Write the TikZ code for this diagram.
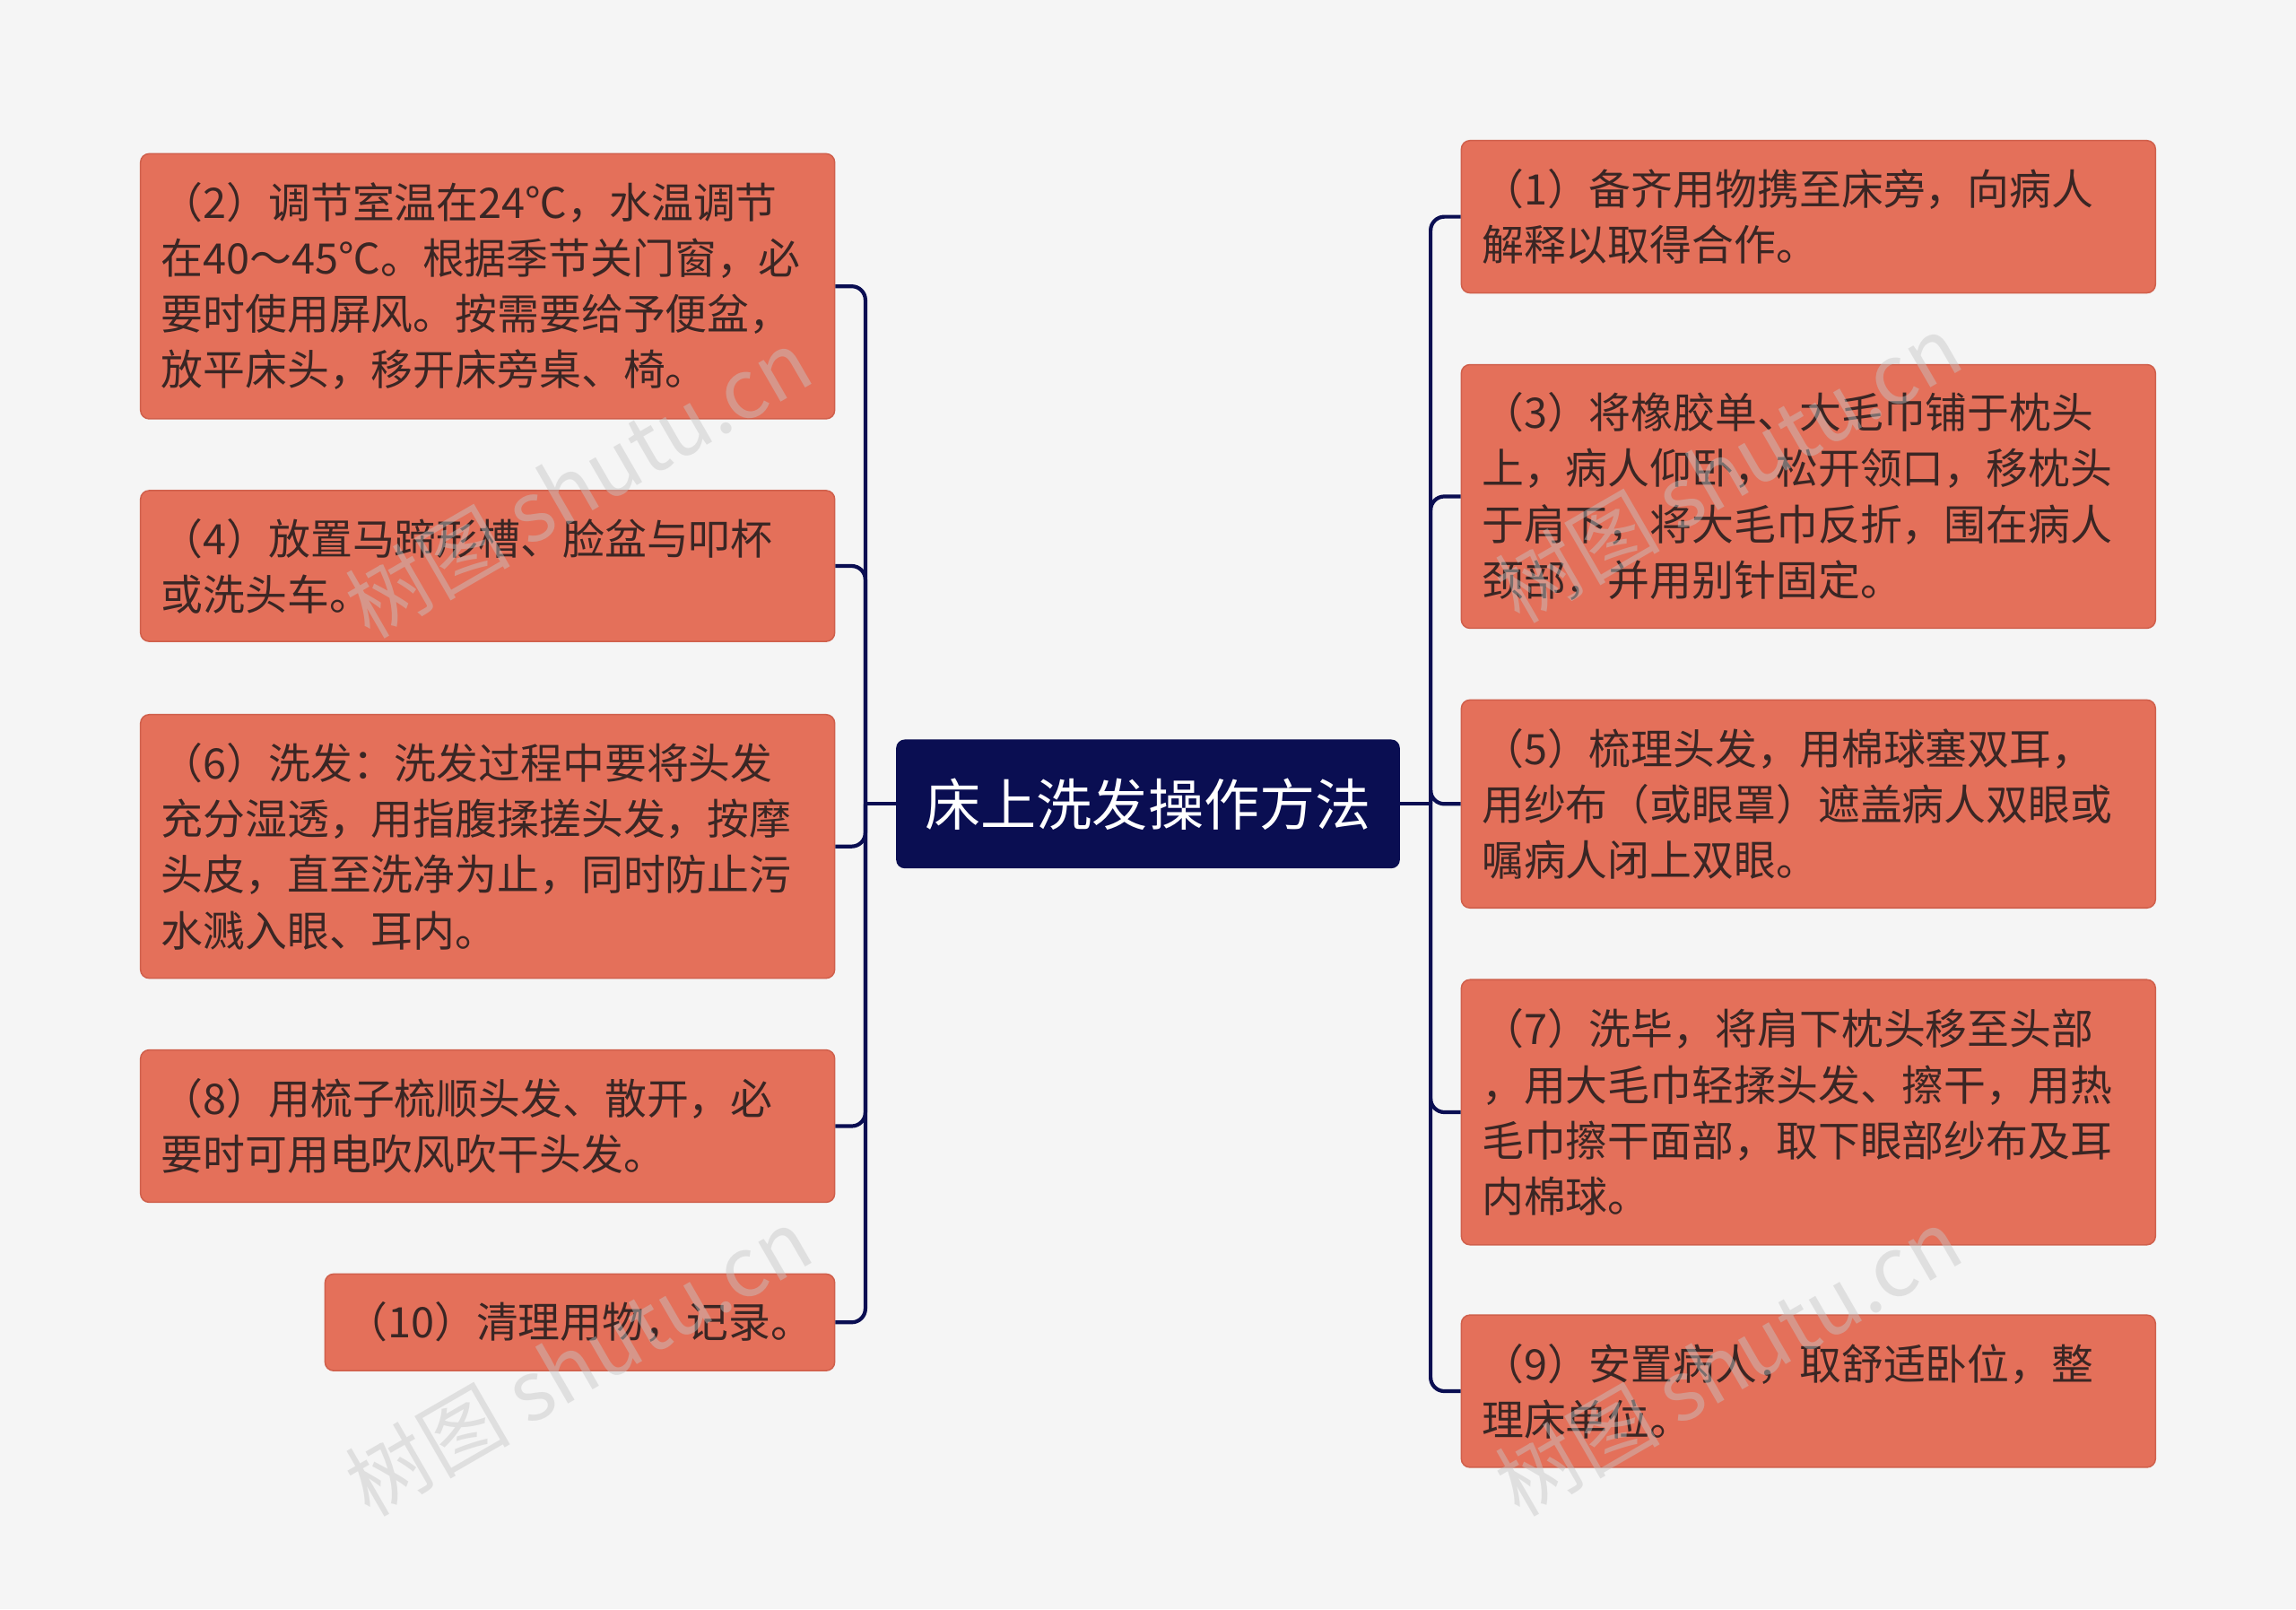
\documentclass[tikz,border=0pt]{standalone}
\usepackage{fontspec}
\setmainfont{Noto Sans CJK SC}
\newfontfamily\wmfont{Noto Sans CJK SC}
\definecolor{bg}{HTML}{F5F5F5}
\definecolor{boxc}{HTML}{E4705A}
\definecolor{boxd}{HTML}{D0604C}
\definecolor{navy}{HTML}{0A0E52}
\definecolor{txt}{HTML}{3A2624}
\tikzset{
 item/.style={draw=boxd,fill=boxc,rounded corners=5pt,line width=0.8pt,text=txt,align=left,inner sep=0pt,
   font=\fontsize{24.5}{32.5}\selectfont},
 lw/.style={minimum width=14.22cm,text width=13.38cm},
 link/.style={draw=navy,line width=2.2pt,rounded corners=8pt},
 wm/.style={text=gray!45,opacity=0.45,rotate=30,font=\wmfont\fontsize{48}{48}\selectfont}
}
\begin{document}
\begin{tikzpicture}[x=0.03cm,y=-0.03cm]
\fill[bg] (0,0) rectangle (1568,1099);
\useasboundingbox (0,0) rectangle (1568,1099);
\node[fill=navy,rounded corners=5pt,minimum width=10.32cm,minimum height=2.64cm,text=white,font=\fontsize{32.5}{38}\selectfont] (c) at (784,549) {床上洗发操作方法};
\node[item,lw,minimum height=5.43cm] (l1) at (333,195.5) {（2）调节室温在24℃，水温调节\\在40～45℃。根据季节关门窗，必\\要时使用屏风。按需要给予便盆，\\放平床头，移开床旁桌、椅。};
\node[item,lw,minimum height=3.09cm] (l2) at (333,386.5) {（4）放置马蹄形槽、脸盆与叩杯\\或洗头车。};
\node[item,lw,minimum height=5.4cm] (l3) at (333,578) {（6）洗发：洗发过程中要将头发\\充分湿透，用指腹揉搓头发，按摩\\头皮，直至洗净为止，同时防止污\\水溅入眼、耳内。};
\node[item,lw,minimum height=3.12cm] (l4) at (333,769) {（8）用梳子梳顺头发、散开，必\\要时可用电吹风吹干头发。};
\node[item,minimum width=10.44cm,text width=9.6cm,minimum height=1.98cm] (l5) at (396,903) {（10）清理用物，记录。};
\node[item,lw,minimum height=3.12cm] (r1) at (1235,148) {（1）备齐用物携至床旁，向病人\\解释以取得合作。};
\node[item,lw,minimum height=5.4cm] (r2) at (1235,339) {（3）将橡胶单、大毛巾铺于枕头\\上，病人仰卧，松开领口，移枕头\\于肩下，将大毛巾反折，围在病人\\颈部，并用别针固定。};
\node[item,lw,minimum height=4.26cm] (r3) at (1235,549) {（5）梳理头发，用棉球塞双耳，\\用纱布（或眼罩）遮盖病人双眼或\\嘱病人闭上双眼。};
\node[item,lw,minimum height=5.43cm] (r4) at (1235,759.5) {（7）洗毕，将肩下枕头移至头部\\，用大毛巾轻揉头发、擦干，用热\\毛巾擦干面部，取下眼部纱布及耳\\内棉球。};
\node[item,lw,minimum height=3.12cm] (r5) at (1235,950) {（9）安置病人，取舒适卧位，整\\理床单位。};
\coordinate (lb) at (591,549);
\coordinate (rb) at (977,549);
\draw[link] (c.west) -- (lb);
\draw[link] (c.east) -- (rb);
\foreach \n in {l1,l2,l3,l4,l5} \draw[link] (lb) |- (\n.east);
\foreach \n in {r1,r2,r3,r4,r5} \draw[link] (rb) |- (\n.west);
\node[wm] (w1) at (395,330) {树图 shutu.cn};
\node[wm] (w2) at (395,930) {树图 shutu.cn};
\node[wm] (w3) at (1180,320) {树图 shutu.cn};
\node[wm] (w4) at (1180,930) {树图 shutu.cn};
\end{tikzpicture}
\end{document}
